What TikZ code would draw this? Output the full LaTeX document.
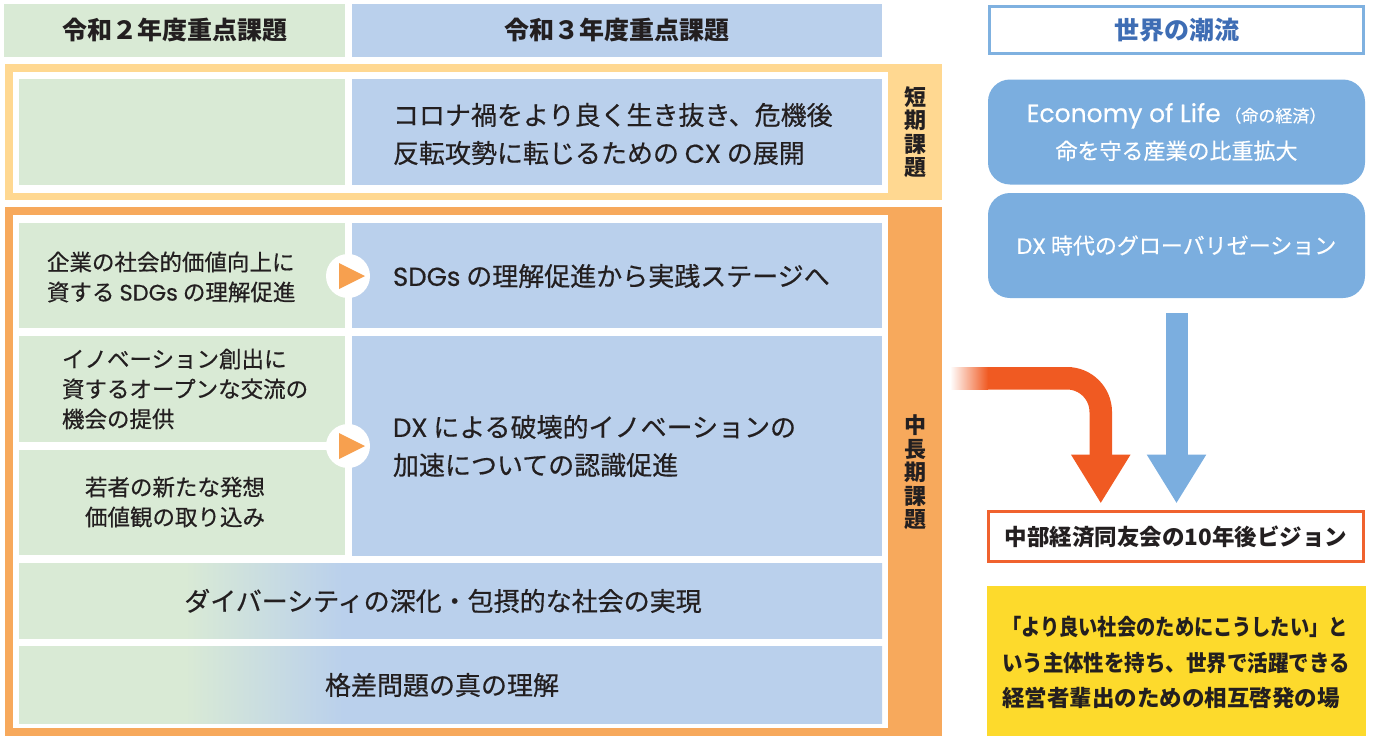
\documentclass[tikz,border=0pt]{standalone}
\usepackage{fontspec}
\usepackage{graphicx}
\setmainfont{Noto Sans CJK JP}
\newfontfamily\medf{Noto Sans CJK JP}[FakeBold=0.5]
\newfontfamily\lat{Poppins}
\newfontfamily\latm{Poppins}[FakeBold=0.5]
\usetikzlibrary{arrows.meta,calc}
\definecolor{gbox}{HTML}{D9EAD5}
\definecolor{bbox}{HTML}{BAD0EC}
\definecolor{sframe}{HTML}{FFD891}
\definecolor{lframe}{HTML}{F7A95C}
\definecolor{rblue}{HTML}{7BAEDF}
\definecolor{wborder}{HTML}{7FB1E0}
\definecolor{wtext}{HTML}{3E6DB4}
\definecolor{oarrow}{HTML}{F05A22}
\definecolor{visborder}{HTML}{F0622E}
\definecolor{ybox}{HTML}{FDDA2C}
\definecolor{tri}{HTML}{F7A04F}
\definecolor{ink}{HTML}{231F20}
\pgfdeclarehorizontalshading{gbshade}{100bp}{color(0bp)=(gbox); color(34.6bp)=(gbox); color(43.8bp)=(bbox); color(100bp)=(bbox)}
\newcommand\myfs[2]{\fontsize{#1pt}{#2pt}\selectfont}
\begin{document}
\begin{tikzpicture}[x=1pt,y=-1pt,
  box/.style={rectangle, inner sep=0pt, outer sep=0pt, text=ink},
  txt/.style={inner sep=0pt, outer sep=0pt, text=ink, align=left, anchor=west},
  hdr/.style={box, font=\myfs{25}{30}\bfseries},
  mainfont/.style={font=\myfs{26}{38}\medf},
  subfont/.style={font=\myfs{22.5}{30}\medf},
  vlabel/.style={inner sep=0pt, text=ink, align=center, font=\myfs{22}{23.5}\bfseries},
  rbox/.style={box, fill=rblue, rounded corners=22pt, minimum width=377pt, minimum height=105pt, text=white, align=center},
  gradrow/.style={box, shading=gbshade, minimum width=863pt},
  marker/.style={circle, fill=white, minimum size=44pt, inner sep=0pt},
  bigarrow/.style={line width=22.5pt, -{Triangle[length=49pt,width=56pt]}}
]
\useasboundingbox (0,0) rectangle (1373,736);

% header row
\node[hdr, fill=gbox, minimum width=341pt, minimum height=53pt] (h2) at (174.5,30.5) {令和２年度重点課題};
\node[hdr, fill=bbox, minimum width=530pt, minimum height=53pt] (h3) at (617,30.5) {令和３年度重点課題};

% short-term frame
\fill[sframe] (5,64) rectangle (942,200);
\fill[white] (13,72) rectangle (888,193);
\node[box, fill=gbox, minimum width=326pt, minimum height=106pt] (s2) at (182,132) {};
\node[box, fill=bbox, minimum width=530pt, minimum height=106pt] (s3) at (617,132) {};
\node[txt, mainfont] (s3t) at (393,134) {コロナ禍をより良く生き抜き、危機後\\反転攻勢に転じるための {\latm CX} の展開};
\node[vlabel] (sl) at (915,132) {短\\期\\課\\題};

% mid-long-term frame
\fill[lframe] (5,207) rectangle (942,736);
\fill[white] (13,215) rectangle (888,728);
\node[box, fill=gbox, minimum width=326pt, minimum height=105pt] (a2) at (182,275.5) {};
\node[box, fill=bbox, minimum width=530pt, minimum height=105pt] (a3) at (617,275.5) {};
\node[box, fill=gbox, minimum width=326pt, minimum height=106pt] (b2) at (182,389) {};
\node[box, fill=gbox, minimum width=326pt, minimum height=105pt] (c2) at (182,502.5) {};
\node[box, fill=bbox, minimum width=530pt, minimum height=220pt] (b3) at (617,446) {};

\node[txt, subfont] (a2t) at (47,277) {企業の社会的価値向上に\\資する {\latm SDGs} の理解促進};
\node[txt, subfont] (b2t) at (62,389) {イノベーション創出に\\資するオープンな交流の\\機会の提供};
\node[txt, subfont] (c2t) at (85,502) {若者の新たな発想\\価値観の取り込み};
\node[txt, mainfont] (a3t) at (393,276) {{\latm SDGs} の理解促進から実践ステージへ};
\node[txt, mainfont] (b3t) at (393,446) {{\latm DX} による破壊的イノベーションの\\加速についての認識促進};

% markers
\node[marker] (m1) at (348,276) {};
\node[marker] (m2) at (348,446) {};
\foreach \m in {m1,m2}
  \fill[tri] ([xshift=-9pt,yshift=13pt]\m.center) -- ([xshift=17pt]\m.center) -- ([xshift=-9pt,yshift=-13pt]\m.center) -- cycle;

% gradient rows
\node[gradrow, minimum height=75pt] (d) at (450.5,600.5) {};
\node[box, font=\myfs{26}{30}\medf] (dt) at (443,601) {ダイバーシティの深化・包摂的な社会の実現};
\node[gradrow, minimum height=77pt] (e) at (450.5,684.5) {};
\node[box, font=\myfs{26}{30}\medf] (et) at (442,685) {格差問題の真の理解};

\node[vlabel] (ll) at (915,472.5) {中\\長\\期\\課\\題};

% right column
\node[box, draw=wborder, line width=3pt, fill=white, minimum width=374pt, minimum height=47pt, text=wtext, font=\myfs{25}{30}\bfseries] (w) at (1176.5,30) {世界の潮流};
\node[rbox, font=\myfs{22}{37}\medf] (eco) at (1176.5,132) {{\latm\myfs{25}{37}Economy of Life}\,{\myfs{17}{37}（命の経済）}\\命を守る産業の比重拡大};
\node[rbox, font=\myfs{22}{30}\medf] (dx) at (1176.5,245.5) {{\latm DX} 時代のグローバリゼーション};

\node[box, draw=visborder, line width=3pt, fill=white, minimum width=375pt, minimum height=50pt, font=\myfs{22.5}{30}\bfseries] (vis) at (1176,536.5) {中部経済同友会の10年後ビジョン};

\node[box, fill=ybox, minimum width=379pt, minimum height=150pt] (y) at (1176.5,661) {};
\node[txt, font=\myfs{22.5}{35.5}\bfseries] (yt) at (1002,662.5) {\resizebox{346pt}{\height}{「より良い社会のためにこうしたい」と}\\\resizebox{348pt}{\height}{いう主体性を持ち、世界で活躍できる}\\経営者輩出のための相互啓発の場};

% arrows
\coordinate (ostart) at (988,378.25);
\shade[left color=white, right color=oarrow] (950,367) rectangle (988,389.5);
\draw[bigarrow, oarrow, rounded corners=33.75pt, shorten >=8pt] (ostart) -| ([xshift=-75.25pt]vis.north);
\draw[bigarrow, rblue, line width=22pt, shorten <=15pt, shorten >=8pt] (dx.south) -- (dx.south |- vis.north);
\end{tikzpicture}
\end{document}
